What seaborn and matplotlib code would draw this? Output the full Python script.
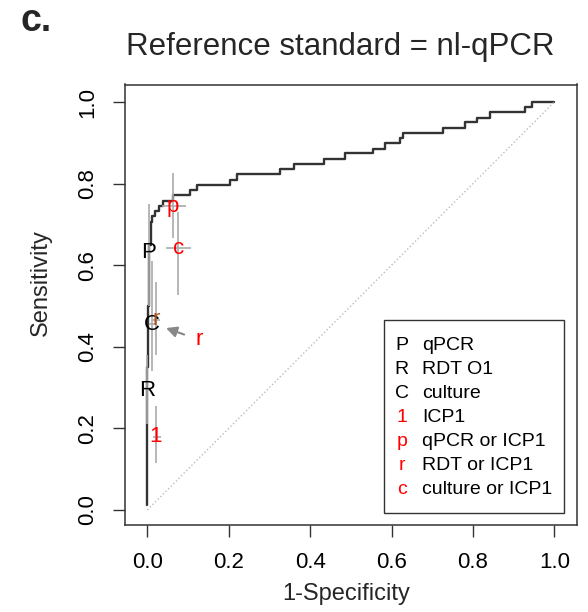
import numpy as np
import pandas as pd
import matplotlib
matplotlib.use("Agg")
import matplotlib.pyplot as plt
import seaborn as sns
from matplotlib.patches import Rectangle

# ROC step curve (start of each horizontal run, sensitivity level)
roc_fpr = [0.000, 0.000, 0.002, 0.005, 0.008, 0.011, 0.019, 0.029, 0.039, 0.064,
           0.105, 0.121, 0.203, 0.220, 0.326, 0.361, 0.434, 0.486, 0.555, 0.584,
           0.621, 0.628, 0.727, 0.781, 0.809, 0.842, 0.928, 0.944, 1.000]
roc_tpr = [0.0125, 0.350, 0.500, 0.650, 0.706, 0.720, 0.734, 0.745, 0.757, 0.772,
           0.784, 0.796, 0.809, 0.823, 0.835, 0.848, 0.861, 0.874, 0.886, 0.900,
           0.912, 0.925, 0.937, 0.950, 0.962, 0.975, 0.988, 1.000, 1.000]

# single tests / combinations with confidence intervals
point_labels = ["P", "R", "C", "1", "p", "r", "c"]
point_colors = ["black", "black", "black", "red", "red", "#a8501e", "red"]
point_fpr = [0.004, 0.000, 0.011, 0.021, 0.062, 0.021, 0.076]
point_sens = [0.632, 0.294, 0.455, 0.180, 0.745, 0.466, 0.641]
sens_lo = [0.500, 0.210, 0.340, 0.114, 0.667, 0.380, 0.527]
sens_hi = [0.750, 0.380, 0.610, 0.255, 0.825, 0.560, 0.731]
fpr_lo = [0.000, 0.000, 0.003, 0.013, 0.035, 0.013, 0.046]
fpr_hi = [0.012, 0.006, 0.020, 0.033, 0.095, 0.030, 0.107]

legend_symbols = ["P", "R", "C", "1", "p", "r", "c"]
legend_colors = ["black", "black", "black", "red", "red", "red", "red"]
legend_labels = ["qPCR", "RDT O1", "culture", "ICP1", "qPCR or ICP1",
                 "RDT or ICP1", "culture or ICP1"]

ticks = [0.0, 0.2, 0.4, 0.6, 0.8, 1.0]
tick_labels = ["0.0", "0.2", "0.4", "0.6", "0.8", "1.0"]

sns.set_theme(style="white")
plt.rcParams["font.family"] = ["Liberation Sans", "DejaVu Sans"]

fig = plt.figure(figsize=(5.88, 6.12), dpi=100)
ax = fig.add_axes([125 / 588, 1 - 525 / 612, 451.7 / 588, 440.5 / 612])

roc = pd.DataFrame({"fpr": roc_fpr, "tpr": roc_tpr})
sns.lineplot(data=roc, x="fpr", y="tpr", sort=False, estimator=None,
             drawstyle="steps-post", color="#333333", linewidth=1.7, ax=ax)
sns.lineplot(x=[0, 1], y=[0, 1], color="#bbbbbb", linestyle=":",
             linewidth=1.0, ax=ax)

# confidence intervals
xerr = [np.array(point_fpr) - np.array(fpr_lo), np.array(fpr_hi) - np.array(point_fpr)]
yerr = [np.array(point_sens) - np.array(sens_lo), np.array(sens_hi) - np.array(point_sens)]
ax.errorbar(point_fpr, point_sens, xerr=xerr, yerr=yerr, fmt="none",
            ecolor="#aaaaaa", elinewidth=1.2, capsize=0, zorder=3)

for lab, col, x, y in zip(point_labels, point_colors, point_fpr, point_sens):
    ax.text(x, y, lab, color=col, fontsize=16, ha="center", va="center", zorder=5)

ax.annotate("r", xy=(0.046, 0.446), xytext=(0.127, 0.417), color="red",
            fontsize=16, ha="center", va="center",
            arrowprops=dict(arrowstyle="-|>", color="#888888", lw=1.5,
                            mutation_scale=16, shrinkA=6, shrinkB=0))

ax.set_xlim(-0.0548, 1.055)
ax.set_ylim(-0.0368, 1.043)
ax.set_xticks(ticks)
ax.set_xticklabels(tick_labels)
ax.set_yticks(ticks)
ax.set_yticklabels(tick_labels, rotation=90, va="center", ha="right")
ax.tick_params(axis="both", direction="out", length=8.5, width=1.0,
               color="#333333", labelsize=16, labelcolor="black", pad=11,
               bottom=True, left=True)
ax.set_xlabel("")
ax.set_ylabel("")
for s in ax.spines.values():
    s.set_color("#333333")
    s.set_linewidth(1.1)

# legend box
ax.add_patch(Rectangle((0.573, 0.028), 0.398, 0.437, transform=ax.transAxes,
                       fill=False, edgecolor="#333333", linewidth=1.0, zorder=6))
for i, (sym, col, lab) in enumerate(zip(legend_symbols, legend_colors, legend_labels)):
    yy = 0.4086 - i * 0.0548
    ax.text(0.6126, yy, sym, color=col, fontsize=14, ha="center", va="center",
            transform=ax.transAxes)
    ax.text(0.657, yy, lab, color="black", fontsize=14, ha="left", va="center",
            transform=ax.transAxes)

fig.text(340 / 588, 1 - 55 / 612, "Reference standard = nl-qPCR", fontsize=22.5,
         ha="center", va="baseline")
fig.text(346 / 588, 1 - 600 / 612, "1-Specificity", fontsize=17,
         ha="center", va="baseline")
fig.text(41 / 588, 1 - 283 / 612, "Sensitivity", fontsize=17, rotation=90,
         ha="center", va="center")
fig.text(21 / 588, 1 - 31 / 612, "c.", fontsize=27, fontweight="bold",
         ha="left", va="baseline")

fig.savefig("out.png", dpi=100)
